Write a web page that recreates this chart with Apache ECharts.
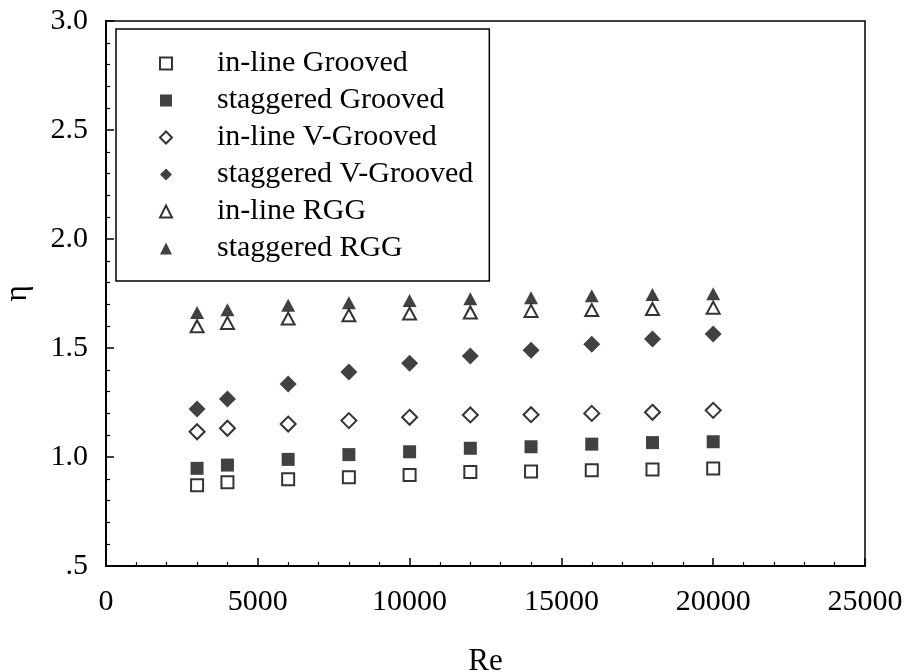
<!DOCTYPE html>
<html>
<head>
<meta charset="utf-8">
<script src="https://cdn.jsdelivr.net/npm/echarts@6/dist/echarts.min.js"></script>
<style>
  html, body { margin: 0; padding: 0; background: #fff; }
  #chart { width: 907px; height: 672px; }
</style>
</head>
<body>
<div id="chart"></div>
<script>
// Reynolds numbers at which efficiency was measured
const reynolds = [3000, 4000, 6000, 8000, 10000, 12000, 14000, 16000, 18000, 20000];

// Thermal enhancement efficiency (eta) for each fin arrangement
const inlineGrooved     = [0.870, 0.884, 0.898, 0.907, 0.917, 0.931, 0.934, 0.939, 0.943, 0.947];
const staggeredGrooved  = [0.948, 0.963, 0.989, 1.011, 1.024, 1.040, 1.047, 1.059, 1.066, 1.070];
const inlineVGrooved    = [1.116, 1.132, 1.151, 1.167, 1.182, 1.193, 1.194, 1.200, 1.205, 1.214];
const staggeredVGrooved = [1.220, 1.266, 1.335, 1.390, 1.430, 1.463, 1.490, 1.517, 1.541, 1.564];
const inlineRGG         = [1.600, 1.615, 1.635, 1.650, 1.658, 1.663, 1.670, 1.674, 1.679, 1.685];
const staggeredRGG      = [1.663, 1.676, 1.696, 1.707, 1.718, 1.726, 1.731, 1.740, 1.745, 1.749];

// Axis tick values
const xTicks = [0, 5000, 10000, 15000, 20000, 25000];
const yTicks = [0.5, 1.0, 1.5, 2.0, 2.5, 3.0];

const seriesNames = [
  'in-line Grooved', 'staggered Grooved', 'in-line V-Grooved',
  'staggered V-Grooved', 'in-line RGG', 'staggered RGG'
];

const FONT = '"Liberation Serif", "Times New Roman", serif';
const INK = '#000';

const pair = ys => reynolds.map((x, i) => [x, ys[i]]);

function openMarker(symbol, size) {
  return {
    symbol, symbolSize: size,
    itemStyle: { color: '#fff', borderColor: INK, borderWidth: 2 }
  };
}
function filledMarker(symbol, size) {
  return {
    symbol, symbolSize: size,
    itemStyle: { color: '#111', borderColor: '#111', borderWidth: 0 }
  };
}

const styles = [
  openMarker('rect', 12),
  filledMarker('rect', 13),
  openMarker('diamond', 15),
  filledMarker('diamond', 17),
  openMarker('triangle', [13, 12]),
  filledMarker('triangle', [14, 13])
];
const values = [inlineGrooved, staggeredGrooved, inlineVGrooved, staggeredVGrooved, inlineRGG, staggeredRGG];

const chart = echarts.init(document.getElementById('chart'), null, { renderer: 'canvas' });

chart.setOption({
  animation: false,
  backgroundColor: '#fff',
  grid: {
    left: 106, top: 21, right: 42, bottom: 106,
    containLabel: false,
    outerBoundsMode: 'none',
    show: true, borderColor: INK, borderWidth: 1.5, backgroundColor: 'transparent'
  },
  legend: {
    orient: 'vertical',
    left: 116, top: 29,
    backgroundColor: '#fff',
    borderColor: INK, borderWidth: 1.5, borderRadius: 0,
    padding: [16, 16, 14, 43],
    itemGap: 0,
    itemWidth: 12, itemHeight: 12,
    itemTextGap: 5,
    data: seriesNames,
    textStyle: {
      fontFamily: FONT, fontSize: 30, color: INK, lineHeight: 37,
      padding: [0, 0, 0, 40]
    },
    selectedMode: false
  },
  xAxis: {
    type: 'value',
    min: xTicks[0], max: xTicks[xTicks.length - 1], interval: 5000,
    name: 'Re', nameLocation: 'middle', nameGap: 80,
    nameTextStyle: { fontFamily: FONT, fontSize: 31, color: INK },
    axisLine: { show: true, onZero: false, lineStyle: { color: INK, width: 2 } },
    axisTick: { show: true, inside: true, length: 8, lineStyle: { color: INK, width: 1.5 } },
    minorTick: { show: true, splitNumber: 5, length: 4, lineStyle: { color: INK, width: 1.2 } },
    splitLine: { show: false },
    axisLabel: {
      fontFamily: FONT, fontSize: 30, color: INK, margin: 21,
      formatter: v => String(v)
    }
  },
  yAxis: {
    type: 'value',
    min: yTicks[0], max: yTicks[yTicks.length - 1], interval: 0.5,
    name: 'η', nameLocation: 'middle', nameGap: 73, nameRotate: 90,
    nameTextStyle: { fontFamily: FONT, fontSize: 31, color: INK },
    axisLine: { show: true, onZero: false, lineStyle: { color: INK, width: 2 } },
    axisTick: { show: true, inside: true, length: 8, lineStyle: { color: INK, width: 1.5 } },
    minorTick: { show: true, splitNumber: 5, length: 4, lineStyle: { color: INK, width: 1.2 } },
    splitLine: { show: false },
    axisLabel: {
      fontFamily: FONT, fontSize: 30, color: INK, margin: 18,
      formatter: v => (Math.abs(v - 0.5) < 1e-9 ? '.5' : v.toFixed(1))
    }
  },
  series: seriesNames.map((name, i) => Object.assign({
    name, type: 'scatter', data: pair(values[i]), z: 3
  }, styles[i]))
});
</script>
</body>
</html>
